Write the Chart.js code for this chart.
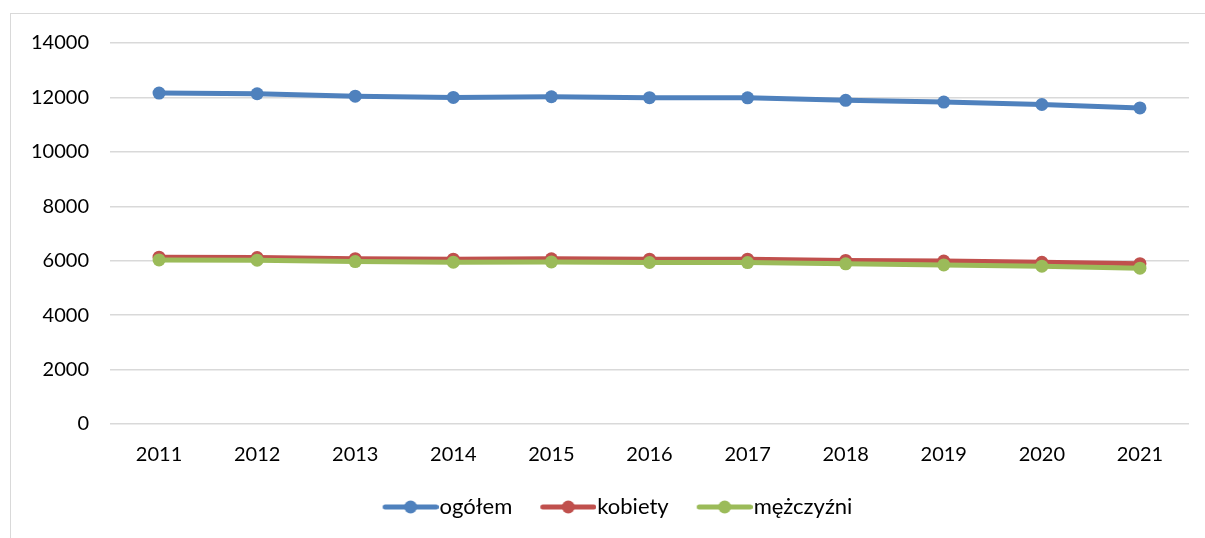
<!DOCTYPE html>
<html>
<head>
<meta charset="utf-8">
<script src="https://cdn.jsdelivr.net/npm/chart.js@4"></script>
<style>
    body { margin: 0; background: #fff; overflow: hidden; }
    #ramka {
        position: absolute;
        left: 10px;
        top: 13px;
        border-left: 1px solid #d9d9d9;
        border-top: 1px solid #d9d9d9;
    }
    canvas { display: block; }
</style>
</head>
<body>
<div id="ramka">
    <canvas id="line-chart" width="1213" height="524"></canvas>
</div>
<script>
const lata = ["2011", "2012", "2013", "2014", "2015", "2016", "2017", "2018", "2019", "2020", "2021"];
const ogolem = [12160, 12135, 12045, 12000, 12025, 11990, 11985, 11895, 11830, 11740, 11615];
const kobiety = [6130, 6115, 6075, 6055, 6070, 6055, 6055, 6010, 5985, 5940, 5890];
const mezczyzni = [6030, 6020, 5970, 5945, 5955, 5935, 5930, 5885, 5845, 5800, 5725];
const etykiety = ["ogółem", "kobiety", "mężczyźni"];
const kolory = ["#4f81bd", "#c0504d", "#9bbb59"];

// obrazek do legendy: linia z kropka; pusty margines z lewej, zeby linia zaczynala sie od poczatku pozycji
function ikonaLegendy(kolor) {
    const c = document.createElement("canvas");
    c.width = 66;
    c.height = 16;
    const ctx = c.getContext("2d");
    ctx.strokeStyle = kolor;
    ctx.lineWidth = 5;
    ctx.lineCap = "round";
    ctx.beginPath();
    ctx.moveTo(12.5, 8);
    ctx.lineTo(63.5, 8);
    ctx.stroke();
    ctx.fillStyle = kolor;
    ctx.beginPath();
    ctx.arc(38, 8, 6.5, 0, Math.PI * 2);
    ctx.fill();
    return c;
}

const ikony = kolory.map(ikonaLegendy);

function seria(i, dane, kolejnosc) {
    return {
        label: etykiety[i],
        data: dane,
        borderColor: kolory[i],
        backgroundColor: kolory[i],
        pointBackgroundColor: kolory[i],
        pointBorderColor: kolory[i],
        borderWidth: 5,
        pointRadius: 6.5,
        pointBorderWidth: 0,
        tension: 0,
        order: kolejnosc
    };
}

new Chart(document.getElementById("line-chart"), {
    type: "line",
    data: {
        labels: lata,
        datasets: [
            seria(0, ogolem, 0),
            seria(1, kobiety, 1),
            seria(2, mezczyzni, 0)
        ]
    },
    options: {
        responsive: false,
        animation: false,
        layout: {
            padding: { top: 29, left: 0, right: 0, bottom: 10 }
        },
        font: { family: "Lato", size: 20 },
        plugins: {
            tooltip: { enabled: false },
            legend: {
                position: "bottom",
                labels: {
                    usePointStyle: true,
                    pointStyleWidth: 46,
                    padding: 28,
                    color: "#000",
                    font: { family: "Lato", size: 22 },
                    generateLabels: (chart) => chart.data.datasets.map((ds, i) => ({
                        text: ds.label,
                        pointStyle: ikony[i],
                        fillStyle: kolory[i],
                        strokeStyle: kolory[i],
                        lineWidth: 0,
                        hidden: false,
                        fontColor: "#000",
                        datasetIndex: i
                    }))
                }
            }
        },
        scales: {
            x: {
                offset: true,
                grid: { display: false, drawTicks: false },
                border: { display: false },
                ticks: { color: "#000", padding: 19, font: { family: "Lato", size: 20 } },
                afterFit: (axis) => { axis.height = 44; }
            },
            y: {
                min: 0,
                max: 14000,
                ticks: {
                    stepSize: 2000,
                    color: "#000",
                    padding: 21,
                    font: { family: "Lato", size: 20, lineHeight: 0.8 },
                    callback: (v) => String(v)
                },
                grid: { color: "#d9d9d9", lineWidth: 1.5, drawTicks: false },
                border: { display: false },
                afterFit: (axis) => { axis.width = 99; }
            },
            prawa: {
                type: "linear",
                position: "right",
                grid: { display: false, drawTicks: false },
                border: { display: false },
                ticks: { display: false },
                afterFit: (axis) => { axis.width = 35; }
            }
        }
    }
});
</script>
</body>
</html>
